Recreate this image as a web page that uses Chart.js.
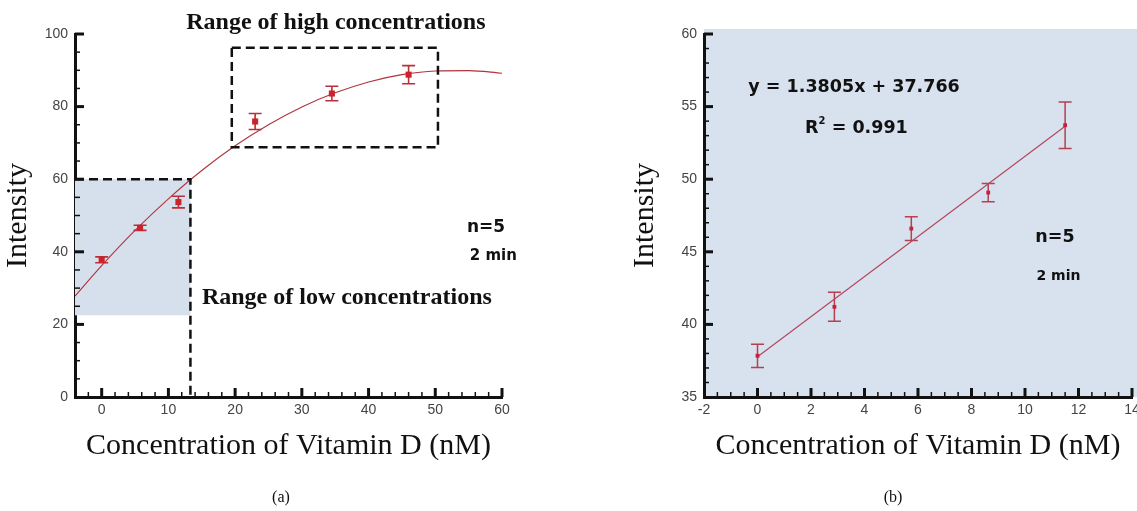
<!DOCTYPE html>
<html><head><meta charset="utf-8">
<script src="https://cdn.jsdelivr.net/npm/chart.js@4.4.1/dist/chart.umd.min.js"></script>
<style>
html,body{margin:0;padding:0;background:#fff;overflow:hidden;width:1137px;height:511px;position:relative;}
.cap{position:absolute;font-family:"Liberation Serif","Times New Roman",serif;font-size:16px;line-height:18px;color:#111;transform:translateX(-50%);}
</style></head>
<body>
<canvas id="cA" width="560" height="511" style="position:absolute;left:0;top:0"></canvas>
<canvas id="cB" width="530" height="511" style="position:absolute;left:620px;top:0"></canvas>
<div class="cap" style="left:281px;top:488px">(a)</div>
<div class="cap" style="left:893px;top:488px">(b)</div>
<script>
// ---- Panel (a) data ----
const concA = [0, 5.75, 11.5, 23, 34.5, 46];
const intensityA = [37.8, 46.6, 53.7, 75.9, 83.6, 88.8];
const errA = [0.8, 0.7, 1.6, 2.2, 2.0, 2.5];
const curveX = [-4, 0, 5, 10, 15, 20, 25, 30, 35, 40, 45, 50, 55, 60];
const curveY = [27.8, 36.2, 45.9, 54.6, 62.4, 69.2, 75.0, 79.9, 83.8, 86.8, 88.8, 89.8, 89.9, 89.2];
const xTicksA = [0, 10, 20, 30, 40, 50, 60];
const yTicksA = [0, 20, 40, 60, 80, 100];
const lowRange = [-4, 13.3, 22.5, 60];     // x0, x1, y0, y1
const highRange = [19.5, 50.4, 68.8, 96.2];

// ---- Panel (b) data ----
const concB = [0, 2.875, 5.75, 8.625, 11.5];
const intensityB = [37.84, 41.21, 46.6, 49.08, 53.72];
const errB = [0.8, 1.0, 0.82, 0.63, 1.6];
const fitLineX = [0, 11.5];
const fitLineY = [37.77, 53.64];
const xTicksB = [-2, 0, 2, 4, 6, 8, 10, 12, 14];
const yTicksB = [35, 40, 45, 50, 55, 60];

const SERIF = '"Liberation Serif","Times New Roman",serif';
const SANS = '"DejaVu Sans",sans-serif';
const TICKFONT = '"Liberation Sans",Arial,sans-serif';

function pts(xs, ys) { return xs.map((v, i) => ({x: v, y: ys[i]})); }

function errorBars(xs, ys, errs, color, capHalf, lw) {
  return { id: 'errbars', beforeDatasetsDraw(chart) {
    const {ctx, scales: {x, y}} = chart;
    ctx.save(); ctx.strokeStyle = color; ctx.lineWidth = lw;
    xs.forEach((xv, i) => {
      const px = x.getPixelForValue(xv);
      const t = y.getPixelForValue(ys[i] + errs[i]);
      const b = y.getPixelForValue(ys[i] - errs[i]);
      ctx.beginPath();
      ctx.moveTo(px, t); ctx.lineTo(px, b);
      ctx.moveTo(px - capHalf, t); ctx.lineTo(px + capHalf, t);
      ctx.moveTo(px - capHalf, b); ctx.lineTo(px + capHalf, b);
      ctx.stroke();
    });
    ctx.restore();
  }};
}

function inwardTicks(xMaj, xMinStep, yMaj, yMinStep) {
  return { id: 'inticks', afterDraw(chart) {
    const {ctx, chartArea: a, scales: {x, y}} = chart;
    ctx.save(); ctx.strokeStyle = '#111';
    const drawX = (v, len, lw) => { const p = x.getPixelForValue(v); ctx.lineWidth = lw; ctx.beginPath(); ctx.moveTo(p, a.bottom); ctx.lineTo(p, a.bottom - len); ctx.stroke(); };
    const drawY = (v, len, lw) => { const p = y.getPixelForValue(v); ctx.lineWidth = lw; ctx.beginPath(); ctx.moveTo(a.left, p); ctx.lineTo(a.left + len, p); ctx.stroke(); };
    for (let v = x.min + xMinStep; v <= x.max + 1e-9; v += xMinStep) {
      if (!xMaj.some(m => Math.abs(m - v) < 1e-6)) drawX(v, 5, 1.5);
    }
    for (let v = y.min + yMinStep; v <= y.max + 1e-9; v += yMinStep) {
      if (!yMaj.some(m => Math.abs(m - v) < 1e-6)) drawY(v, 5, 1.5);
    }
    xMaj.forEach(v => { if (v > x.min) drawX(v, 9, 3); });
    yMaj.forEach(v => { if (v > y.min) drawY(v, 9, 3); });
    ctx.restore();
  }};
}

function texts(items) {
  return { id: 'texts', afterDraw(chart) {
    const {ctx, scales: {x, y}} = chart;
    ctx.save();
    items.forEach(it => {
      const px = x.getPixelForValue(it.x), py = y.getPixelForValue(it.y);
      ctx.fillStyle = it.color || '#111';
      ctx.textBaseline = 'middle';
      if (it.parts) {
        let cx = px;
        it.parts.forEach(p => {
          ctx.font = p.font; ctx.textAlign = 'left';
          ctx.fillText(p.t, cx, py + (p.dy || 0));
          cx += ctx.measureText(p.t).width;
        });
      } else {
        ctx.font = it.font; ctx.textAlign = it.align || 'center';
        ctx.fillText(it.text, px, py);
      }
    });
    ctx.restore();
  }};
}

function axisCfg(min, max, tickList, fitSize, horizontal, title, titlePad) {
  return {
    type: 'linear', min: min, max: max,
    afterBuildTicks: s => { s.ticks = tickList.map(v => ({value: v})); },
    afterFit: s => { if (horizontal) s.height = fitSize; else s.width = fitSize; },
    grid: {display: false, drawTicks: false},
    border: {display: true, color: '#111', width: 3},
    ticks: {padding: horizontal ? 5 : 7, font: {family: TICKFONT, size: 14}, color: '#444', maxRotation: 0, autoSkip: false},
    title: {display: true, text: title, font: {family: SERIF, size: 30}, color: '#111', padding: titlePad}
  };
}

const baseOpts = {
  responsive: false, animation: false, devicePixelRatio: 1,
  plugins: {legend: {display: false}, tooltip: {enabled: false}}
};

// ---- Chart (a) ----
const rangesA = { id: 'rangesA',
  beforeDatasetsDraw(chart) {
    const {ctx, scales: {x, y}} = chart;
    const [x0, x1, y0, y1] = lowRange;
    ctx.save(); ctx.fillStyle = '#d6e0ed';
    ctx.fillRect(x.getPixelForValue(x0), y.getPixelForValue(y1), x.getPixelForValue(x1) - x.getPixelForValue(x0), y.getPixelForValue(y0) - y.getPixelForValue(y1));
    ctx.restore();
  },
  afterDatasetsDraw(chart) {
    const {ctx, scales: {x, y}} = chart;
    ctx.save(); ctx.strokeStyle = '#111'; ctx.lineWidth = 2.5; ctx.setLineDash([9, 5]);
    const [a0, a1, b0, b1] = lowRange;
    ctx.beginPath();
    ctx.moveTo(x.getPixelForValue(a0), y.getPixelForValue(b1));
    ctx.lineTo(x.getPixelForValue(a1), y.getPixelForValue(b1));
    ctx.lineTo(x.getPixelForValue(a1), y.getPixelForValue(0));
    ctx.stroke();
    const [h0, h1, v0, v1] = highRange;
    ctx.beginPath();
    ctx.rect(x.getPixelForValue(h0), y.getPixelForValue(v1), x.getPixelForValue(h1) - x.getPixelForValue(h0), y.getPixelForValue(v0) - y.getPixelForValue(v1));
    ctx.stroke();
    ctx.restore();
  }
};

new Chart(document.getElementById('cA'), {
  type: 'scatter',
  data: {datasets: [
    {data: pts(concA, intensityA), pointStyle: 'rect', pointRadius: 4.3, backgroundColor: '#cc2229', borderWidth: 0, showLine: false},
    {data: pts(curveX, curveY), showLine: true, pointRadius: 0, borderColor: '#b2323c', borderWidth: 1.1, cubicInterpolationMode: 'monotone', fill: false}
  ]},
  options: Object.assign({}, baseOpts, {
    layout: {padding: {left: 0, top: 34, right: 58, bottom: 40}},
    scales: {
      x: axisCfg(-4, 60, xTicksA, 74, true, 'Concentration of Vitamin D (nM)', {top: 0, bottom: 7}),
      y: axisCfg(0, 100, yTicksA, 75, false, 'Intensity', {top: 0, bottom: 0})
    }
  }),
  plugins: [rangesA, errorBars(concA, intensityA, errA, '#b8303a', 6.5, 1.6), inwardTicks(xTicksA, 2, yTicksA, 5),
    texts([
      {text: 'Range of high concentrations', x: 35.1, y: 103.0, font: 'bold 24px ' + SERIF},
      {text: 'Range of low concentrations', x: 36.75, y: 27.3, font: 'bold 24px ' + SERIF},
      {text: 'n=5', x: 57.6, y: 46.8, font: 'bold 17px ' + SANS},
      {text: '2 min', x: 58.7, y: 38.9, font: 'bold 15px ' + SANS}
    ])]
});

// ---- Chart (b) ----
const bgB = { id: 'bgB', beforeDraw(chart) {
  const {ctx, chartArea: a} = chart;
  ctx.save(); ctx.fillStyle = '#d8e1ee';
  ctx.fillRect(a.left, a.top - 5, chart.width - a.left, a.bottom - a.top + 5);
  ctx.restore();
}};

new Chart(document.getElementById('cB'), {
  type: 'scatter',
  data: {datasets: [
    {data: pts(concB, intensityB), pointStyle: 'rect', pointRadius: 2.7, backgroundColor: '#c4223a', borderWidth: 0, showLine: false},
    {data: pts(fitLineX, fitLineY), showLine: true, pointRadius: 0, borderColor: '#b8485c', borderWidth: 1.2, fill: false}
  ]},
  options: Object.assign({}, baseOpts, {
    layout: {padding: {left: 0, top: 34, right: 18, bottom: 40}},
    scales: {
      x: axisCfg(-2, 14, xTicksB, 74, true, 'Concentration of Vitamin D (nM)', {top: 0, bottom: 7}),
      y: axisCfg(35, 60, yTicksB, 84, false, 'Intensity', {top: 7, bottom: 0})
    }
  }),
  plugins: [bgB, errorBars(concB, intensityB, errB, '#b54050', 6.5, 1.5), inwardTicks(xTicksB, 0.5, yTicksB, 1),
    texts([
      {text: 'y = 1.3805x + 37.766', x: 3.61, y: 56.29, font: 'bold 17.5px ' + SANS},
      {x: 1.78, y: 53.47, parts: [
        {t: 'R', font: 'bold 17.5px ' + SANS},
        {t: '2', font: 'bold 10px ' + SANS, dy: -7},
        {t: ' = 0.991', font: 'bold 17.5px ' + SANS}
      ]},
      {text: 'n=5', x: 11.12, y: 45.96, font: 'bold 17.5px ' + SANS},
      {text: '2 min', x: 11.25, y: 43.28, font: 'bold 14px ' + SANS}
    ])]
});
</script>
</body></html>
